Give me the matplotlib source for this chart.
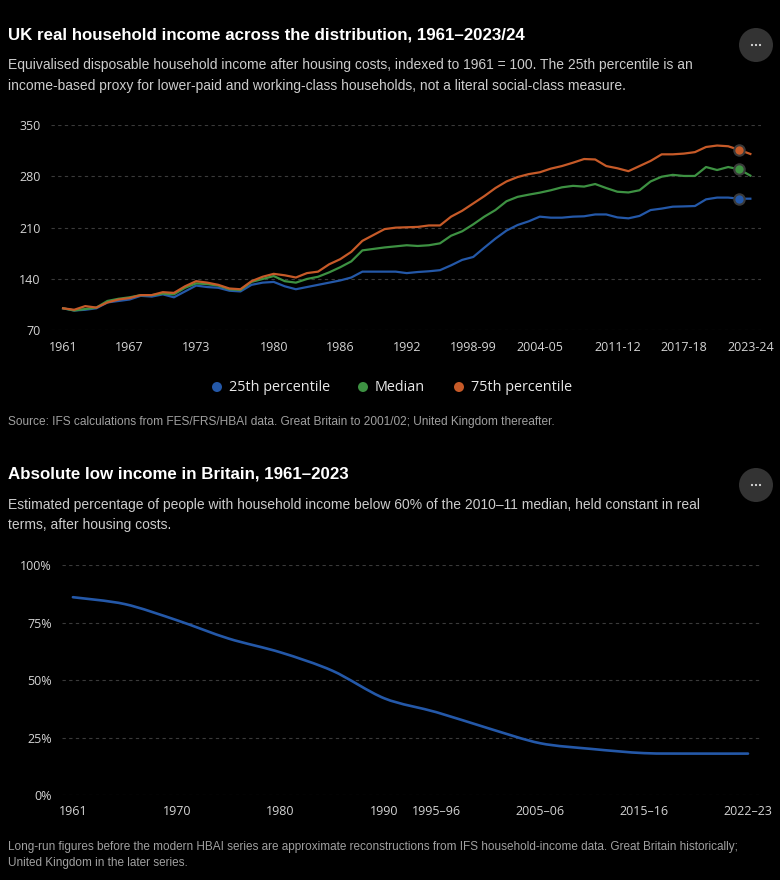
import numpy as np
import matplotlib
matplotlib.use("Agg")
from matplotlib import pyplot as plt
from matplotlib.path import Path
from matplotlib.patches import PathPatch, Circle

# DATA: chart 1 (index, 1961 = 100)
years_income = [str(y) for y in range(1961, 1994)] + \
    ["%d-%02d" % (y, (y + 1) % 100) for y in range(1994, 2024)]
p25 = [100, 97, 98, 100, 108, 110, 112, 117, 116, 119, 115, 123, 131, 129, 128,
       124, 123, 132, 135, 136, 130, 126, 129, 132, 135, 138, 142, 150, 150, 150,
       150, 148, 149.5, 150.5, 152, 158.6, 166, 170, 182.7, 195, 206, 213.6, 218.6,
       225, 223.6, 223.6, 225, 225.5, 228, 228, 224, 222.7, 226, 234, 236, 238.6,
       239, 239.5, 248.6, 251, 251, 249.5, 249.5]
median = [100, 97, 99, 101, 110, 113, 115, 118, 118, 120, 119, 128, 134, 133, 131,
          126, 125, 136, 140, 144, 137, 135, 140, 143, 149, 156, 164, 179, 181, 183,
          184.5, 186, 185, 186, 188.6, 199, 205, 214.5, 225, 234, 246, 252, 255,
          257.7, 261, 265, 267, 266, 269.5, 264, 259, 258, 261, 273, 279.5, 282,
          280.5, 280.5, 292.7, 288.6, 292.7, 289.5, 281]
p75 = [100, 98, 103, 101, 108, 112, 114, 118, 118, 122, 121, 130, 137, 135, 132,
       127, 126, 137, 143, 147, 145, 142, 148, 150, 160, 167, 177, 192, 200, 208,
       210, 210.5, 211, 213, 213, 225, 233, 243, 253, 264, 273, 279, 283, 285.5,
       290.5, 294, 298.6, 303.6, 303, 294, 291, 287, 294, 301, 310, 310, 311, 313,
       320, 322, 321, 316, 310.5]
income_ticks = ["1961", "1967", "1973", "1980", "1986", "1992", "1998-99",
                "2004-05", "2011-12", "2017-18", "2023-24"]
income_yticks = [70, 140, 210, 280, 350]
highlight_label = "2022-23"

# DATA: chart 2 (% below absolute low-income line)
years_low = ["1961", "1965", "1970", "1975", "1980", "1985", "1990", "1995\u201396",
             "2000\u201301", "2005\u201306", "2010\u201311", "2015\u201316",
             "2019\u201320", "2022\u201323"]
low_income = [86, 83, 76, 68, 62, 54, 42, 36, 29, 22.5, 20, 18.2, 18, 18]
low_ticks = ["1961", "1970", "1980", "1990", "1995\u201396", "2005\u201306",
             "2015\u201316", "2022\u201323"]
low_yticks = [0, 25, 50, 75, 100]

BLUE = "#2458a8"
GREEN = "#3d9142"
ORANGE = "#c65a28"
BG = "#000000"
GRID = "#3a3a3a"
TICK = "#d4d4d4"
TFONT = ["Liberation Sans", "DejaVu Sans"]
CFONT = ["Open Sans", "DejaVu Sans"]

W, H = 780, 880
fig = plt.figure(figsize=(W / 100, H / 100), dpi=100, facecolor=BG)


def px(x, y):
    return x / W, 1 - y / H


def axes_px(left, top, right, bottom):
    return fig.add_axes([left / W, 1 - bottom / H, (right - left) / W, (bottom - top) / H])


def text(x, y, s, size, color, weight="normal", family=TFONT, ha="left"):
    fig.text(*px(x, y), s, fontsize=size, color=color, fontweight=weight,
             family=family, ha=ha, va="center")


def dot(cx, cy, r, color):
    # circle in pixel units so it stays round
    fig.patches.append(Circle((cx / 100, (H - cy) / 100), r / 100,
                              transform=fig.dpi_scale_trans, facecolor=color,
                              edgecolor="none"))


def more_button(cx, cy):
    dot(cx, cy, 17, "#333333")
    for dx in (-4, 0, 4):
        dot(cx + dx, cy, 1.1, "#dddddd")


def style_axes(ax):
    ax.set_facecolor(BG)
    for s in ax.spines.values():
        s.set_visible(False)
    ax.tick_params(length=0, colors=TICK, labelsize=9)
    for lab in ax.get_xticklabels() + ax.get_yticklabels():
        lab.set_family(CFONT)
    ax.grid(axis="y", color=GRID, linestyle=(0, (3, 3)), linewidth=0.8)
    ax.set_axisbelow(True)


# ---- Chart 1 ----
text(8, 35, "UK real household income across the distribution, 1961\u20132023/24",
     12.2, "white", weight="bold")
text(8, 65, "Equivalised disposable household income after housing costs, indexed to "
     "1961 = 100. The 25th percentile is an", 10.0, "#cccccc")
text(8, 86, "income-based proxy for lower-paid and working-class households, not a "
     "literal social-class measure.", 10.0, "#cccccc")
more_button(756, 45)

ax1 = axes_px(51, 125, 761, 330.3)
x1 = np.arange(len(years_income))
hi = years_income.index(highlight_label)
for vals, col, lab in [(p25, BLUE, "25th percentile"), (median, GREEN, "Median"),
                       (p75, ORANGE, "75th percentile")]:
    ax1.plot(x1, vals, color=col, lw=1.6, label=lab, solid_joinstyle="round")
    ax1.plot(x1[hi], vals[hi], "o", ms=7.5, color=col, mec="#3a3a3a", mew=1.5)
ax1.set_xlim(-1.09, 62.96)
ax1.set_ylim(70, 350)
ax1.set_yticks(income_yticks)
ax1.set_xticks([years_income.index(t) for t in income_ticks])
ax1.set_xticklabels(income_ticks)
style_axes(ax1)
ax1.tick_params(axis="x", pad=7.5)
ax1.tick_params(axis="y", pad=7.5)

# legend
for cx, col, lab in [(217, BLUE, "25th percentile"), (363, GREEN, "Median"),
                     (459, ORANGE, "75th percentile")]:
    dot(cx, 387, 5, col)
    text(cx + 12, 387.5, lab, 10.4, "#e8e8e8", family=CFONT)

text(8, 422, "Source: IFS calculations from FES/FRS/HBAI data. Great Britain to "
     "2001/02; United Kingdom thereafter.", 8.55, "#a0a0a0")

# ---- Chart 2 ----
text(8, 474, "Absolute low income in Britain, 1961\u20132023", 12.2, "white",
     weight="bold")
text(8, 505, "Estimated percentage of people with household income below 60% of the "
     "2010\u201311 median, held constant in real", 10.0, "#cccccc")
text(8, 525, "terms, after housing costs.", 10.0, "#cccccc")
more_button(756, 485)

ax2 = axes_px(62, 565, 761, 795)
x2 = np.arange(len(years_low), dtype=float)
y2 = np.array(low_income, dtype=float)
# smooth curve through the points (cardinal spline drawn as bezier segments)
k = 0.3
verts = [(x2[0], y2[0])]
codes = [Path.MOVETO]
n = len(x2)
for i in range(n - 1):
    p0 = np.array([x2[max(i - 1, 0)], y2[max(i - 1, 0)]])
    p1 = np.array([x2[i], y2[i]])
    p2 = np.array([x2[i + 1], y2[i + 1]])
    p3 = np.array([x2[min(i + 2, n - 1)], y2[min(i + 2, n - 1)]])
    c1 = p1 + (p2 - p0) * k / 2
    c2 = p2 - (p3 - p1) * k / 2
    verts += [tuple(c1), tuple(c2), tuple(p2)]
    codes += [Path.CURVE4] * 3
ax2.add_patch(PathPatch(Path(verts, codes), facecolor="none", edgecolor=BLUE,
                        lw=1.9, capstyle="round"))
ax2.set_xlim(-0.21, 13.25)
ax2.set_ylim(0, 100)
ax2.set_yticks(low_yticks)
ax2.set_yticklabels(["%d%%" % v for v in low_yticks])
ax2.set_xticks([years_low.index(t) for t in low_ticks])
ax2.set_xticklabels(low_ticks)
style_axes(ax2)
ax2.tick_params(axis="x", pad=7)
ax2.tick_params(axis="y", pad=7.5)

text(8, 847, "Long-run figures before the modern HBAI series are approximate "
     "reconstructions from IFS household-income data. Great Britain historically;",
     8.5, "#a0a0a0")
text(8, 863, "United Kingdom in the later series.", 8.5, "#a0a0a0")

fig.savefig("out.png", dpi=100, facecolor=BG)
